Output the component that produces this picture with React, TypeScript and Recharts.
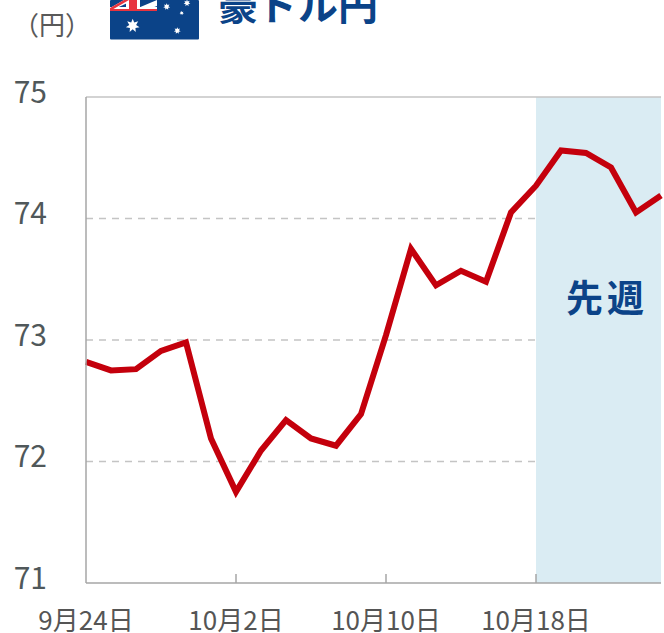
import { CartesianGrid, ComposedChart, Line, ReferenceArea, ReferenceLine, XAxis, YAxis } from 'recharts'

const dates = [
  '9月24日', '9月25日', '9月26日', '9月27日', '9月28日', '10月1日', '10月2日', '10月3日',
  '10月4日', '10月5日', '10月8日', '10月9日', '10月10日', '10月11日', '10月12日', '10月15日',
  '10月16日', '10月17日', '10月18日', '10月19日', '10月22日', '10月23日', '10月24日', '10月25日',
]
const rates = [
  72.82, 72.75, 72.76, 72.91, 72.98, 72.19, 71.75, 72.09, 72.34, 72.19, 72.13, 72.39,
  73.04, 73.75, 73.45, 73.57, 73.48, 74.05, 74.27, 74.56, 74.54, 74.42, 74.05, 74.19,
]
const xTicks = ['9月24日', '10月2日', '10月10日', '10月18日']
const yTicks = [71, 72, 73, 74, 75]
const gridValues = [72, 73, 74]

const chartData = dates.map((date, i) => ({ date, rate: rates[i] }))

const FONT = '"Noto Sans CJK JP", "Noto Sans", sans-serif'
const BLUE = '#0b4388'
const AXIS = '#a6a6a6'

// date label below the axis, tick mark pointing up into the plot
function DateTick({ x, y, payload, index }: any) {
  return (
    <g>
      {index > 0 && <line x1={x} x2={x} y1={y - 9} y2={y} stroke={AXIS} strokeWidth={1.5} />}
      <text x={x} y={y + 47} textAnchor="middle" fontSize={26} fontFamily={FONT} fill="#555">
        {payload.value}
      </text>
    </g>
  )
}

function Star({ cx, cy, r }: { cx: number; cy: number; r: number }) {
  const pts: string[] = []
  for (let i = 0; i < 14; i++) {
    const a = (Math.PI * i) / 7 - Math.PI / 2
    const d = i % 2 === 0 ? r : r * 0.5
    pts.push(`${cx + d * Math.cos(a)},${cy + d * Math.sin(a)}`)
  }
  return <polygon points={pts.join(' ')} fill="#fff" />
}

function Flag() {
  return (
    <svg width={90} height={40} style={{ position: 'absolute', left: 110, top: 0 }}>
      <rect x={0} y={0} width={89} height={39.5} rx={1} fill={BLUE} />
      {/* union jack corner, the top of it is cut off by the page */}
      <polygon points="0,8 14,0 24,0 0,11" fill="#fff" />
      <polygon points="28,8 47,0 47,6 34,11" fill="#fff" />
      <rect x={0} y={7} width={47} height={4} fill="#fff" />
      <rect x={16} y={0} width={14} height={11} fill="#fff" />
      <polygon points="0,11 0,8 14,0 19,0" fill="#e8343f" />
      <rect x={19} y={0} width={8} height={11} fill="#e8343f" />
      <rect x={0} y={9} width={47} height={2} fill="#e8343f" />
      <Star cx={22.7} cy={25.7} r={7} />
      <Star cx={56.7} cy={6.7} r={3.5} />
      <Star cx={77} cy={3} r={3.5} />
      <Star cx={71.7} cy={13} r={2.2} />
      <Star cx={67.3} cy={30.7} r={3.5} />
    </svg>
  )
}

export default function App() {
  return (
    <div style={{ position: 'absolute', left: 0, top: 0, width: 664, height: 633, overflow: 'hidden', background: '#fff', fontFamily: FONT }}>
      <ComposedChart
        width={664}
        height={633}
        data={chartData}
        margin={{ top: 97, right: 3, bottom: 0, left: 0 }}
      >
        <CartesianGrid
          vertical={false}
          horizontalValues={gridValues}
          stroke="#c4c4c4"
          strokeWidth={1.5}
          strokeDasharray="7 6"
        />
        <ReferenceLine y={75} stroke="#c4c4c4" strokeWidth={1.5} />
        <ReferenceArea x1="10月18日" x2="10月25日" y1={71} y2={75} fill="#daecf3" fillOpacity={1} stroke="none" />
        <XAxis
          dataKey="date"
          scale="point"
          interval={0}
          ticks={xTicks}
          height={50}
          stroke={AXIS}
          strokeWidth={1.5}
          tickLine={false}
          tickSize={0}
          tickMargin={0}
          tick={<DateTick />}
        />
        <YAxis
          domain={[71, 75]}
          ticks={yTicks}
          width={86}
          stroke={AXIS}
          strokeWidth={1.5}
          tickLine={false}
          tickSize={0}
          tickMargin={39}
          tick={{ fontSize: 30, fill: '#50585a', fontFamily: FONT, dy: -5, stroke: 'none' }}
        />
        <Line
          type="linear"
          dataKey="rate"
          stroke="#c4000c"
          strokeWidth={6}
          dot={false}
          isAnimationActive={false}
        />
      </ComposedChart>
      <Flag />
      <div style={{ position: 'absolute', left: 13, top: 5, fontSize: 26, lineHeight: '38px', color: '#595959', whiteSpace: 'nowrap' }}>
        （円）
      </div>
      <div style={{ position: 'absolute', left: 218, top: -27, fontSize: 40, lineHeight: '60px', fontWeight: 700, color: BLUE, whiteSpace: 'nowrap' }}>
        豪ドル円
      </div>
      <div style={{ position: 'absolute', left: 566, top: 269, fontSize: 37, lineHeight: '54px', fontWeight: 700, letterSpacing: 4, color: BLUE, whiteSpace: 'nowrap' }}>
        先週
      </div>
    </div>
  )
}
